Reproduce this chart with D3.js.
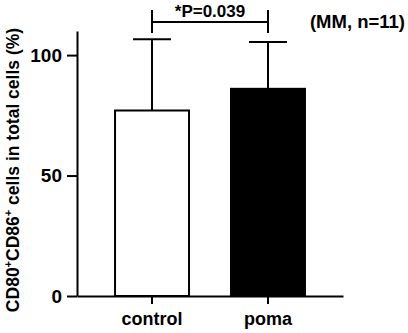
<!DOCTYPE html>
<html lang="en">
<head>
    <meta charset="UTF-8">
    <title>CD80+CD86+ cells</title>
    <script src="https://d3js.org/d3.v7.min.js"></script>
    <style>
        body { margin: 0; background: #fff; }
        svg text { font-family: "Liberation Sans", Arial, sans-serif; font-weight: bold; fill: #000; }
    </style>
</head>
<body>
    <div id="chart"></div>
    <script>
        // data
        const groups = ["control", "poma"];
        const means = [77, 86];
        const sds = [29.6, 19.4];
        const barFills = ["#fff", "#000"];
        const yTicks = [0, 50, 100];
        const pLabel = "*P=0.039";
        const noteLabel = "(MM, n=11)";

        const width = 408, height = 333;
        const margin = { top: 31, right: 65, bottom: 37, left: 77 };

        const svg = d3.select("#chart").append("svg")
            .attr("width", width)
            .attr("height", height);

        const x = d3.scaleBand()
            .domain(groups)
            .range([margin.left, width - margin.right])
            .paddingInner(0.362)
            .paddingOuter(0.328);

        const y = d3.scaleLinear()
            .domain([0, 110])
            .range([height - margin.bottom, margin.top]);

        const data = groups.map((g, i) => ({ g: g, mean: means[i], sd: sds[i], fill: barFills[i] }));

        // error bars (drawn first, upper half only)
        const capHalf = 19;
        const eb = svg.append("g").attr("stroke", "#000").attr("stroke-width", 2);
        data.forEach(d => {
            const cx = x(d.g) + x.bandwidth() / 2;
            eb.append("line")
                .attr("x1", cx).attr("x2", cx)
                .attr("y1", y(d.mean)).attr("y2", y(d.mean + d.sd));
            eb.append("line")
                .attr("x1", cx - capHalf).attr("x2", cx + capHalf)
                .attr("y1", y(d.mean + d.sd)).attr("y2", y(d.mean + d.sd));
        });

        // bars
        svg.append("g").selectAll("rect")
            .data(data)
            .enter().append("rect")
            .attr("x", d => x(d.g))
            .attr("y", d => y(d.mean))
            .attr("width", x.bandwidth())
            .attr("height", d => y(0) - y(d.mean))
            .attr("fill", d => d.fill)
            .attr("stroke", "#000")
            .attr("stroke-width", 2);

        // y axis
        const yAxis = svg.append("g")
            .attr("transform", "translate(" + margin.left + ",0)")
            .call(d3.axisLeft(y).tickValues(yTicks).tickSize(10).tickPadding(5).tickSizeOuter(0));
        yAxis.select(".domain").attr("stroke-width", 2);
        yAxis.selectAll(".tick line").attr("stroke-width", 2);
        yAxis.selectAll(".tick text").style("font-size", "19px");

        // x axis
        const xAxis = svg.append("g")
            .attr("transform", "translate(0," + y(0) + ")")
            .call(d3.axisBottom(x).tickSize(8).tickPadding(8).tickSizeOuter(0));
        xAxis.select(".domain").attr("stroke-width", 2);
        xAxis.selectAll(".tick line").attr("stroke-width", 2);
        xAxis.selectAll(".tick text").style("font-size", "18px");

        // y label
        const yl = svg.append("text")
            .attr("transform", "translate(19," + 170 + ") rotate(-90)")
            .attr("text-anchor", "middle")
            .style("font-size", "17.5px");
        yl.append("tspan").text("CD80");
        yl.append("tspan").attr("dy", -7).style("font-size", "11px").text("+");
        yl.append("tspan").attr("dy", 7).text("CD86");
        yl.append("tspan").attr("dy", -7).style("font-size", "11px").text("+");
        yl.append("tspan").attr("dy", 7).text(" cells in total cells (%)");

        // significance bracket
        const bx1 = x(groups[0]) + x.bandwidth() / 2;
        const bx2 = x(groups[1]) + x.bandwidth() / 2;
        const by = 22;
        const br = svg.append("g").attr("stroke", "#000").attr("stroke-width", 2);
        br.append("line").attr("x1", bx1).attr("x2", bx2).attr("y1", by).attr("y2", by);
        br.append("line").attr("x1", bx1).attr("x2", bx1).attr("y1", by - 12).attr("y2", by + 11);
        br.append("line").attr("x1", bx2).attr("x2", bx2).attr("y1", by - 12).attr("y2", by + 11);

        svg.append("text")
            .attr("x", (bx1 + bx2) / 2)
            .attr("y", 17)
            .attr("text-anchor", "middle")
            .style("font-size", "17px")
            .text(pLabel);

        svg.append("text")
            .attr("x", 405)
            .attr("y", 28)
            .attr("text-anchor", "end")
            .style("font-size", "18.5px")
            .text(noteLabel);
    </script>
</body>
</html>
